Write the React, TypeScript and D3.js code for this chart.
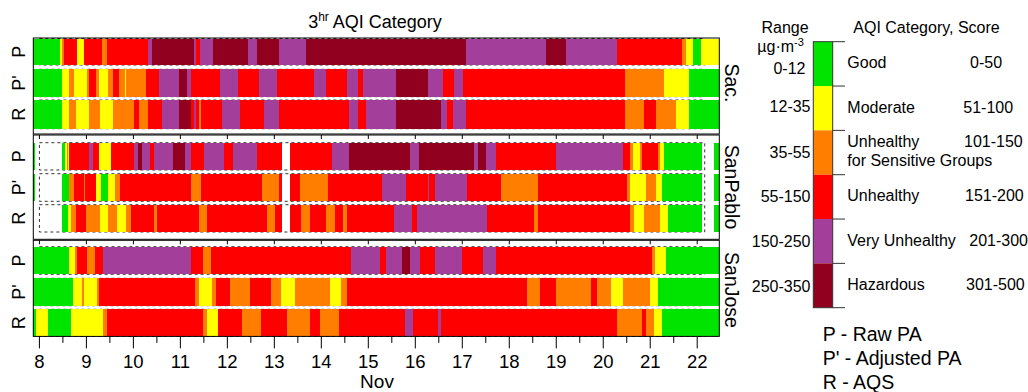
import React from "react";
import * as d3 from "d3";

// AQI categories: code, colour, label, score band and PM2.5 range
const CATEGORY_CODES = ["G", "Y", "O", "R", "V", "H"];
const CATEGORY_COLORS = ["#00e400", "#ffff00", "#ff7e00", "#ff0000", "#a33f9b", "#92001f"];
const CATEGORY_LABELS = [["Good"], ["Moderate"], ["Unhealthy", "for Sensitive Groups"], ["Unhealthy"], ["Very Unhealthy"], ["Hazardous"]];
const CATEGORY_SCORES = ["0-50", "51-100", "101-150", "151-200", "201-300", "301-500"];
const CATEGORY_RANGES = ["0-12", "12-35", "35-55", "55-150", "150-250", "250-350"];

const SITE_NAMES = ["Sac.", "SanPablo", "SanJose"];
const SERIES_NAMES = ["P", "P'", "R"];
const SERIES_KEY = ["P - Raw PA", "P' - Adjusted PA", "R - AQS"];
const DAY_TICKS = d3.range(8, 23);
const HALF_DAY_TICKS = d3.range(8.5, 22.5, 1);
const TIME_START = 7.87;
const TIME_END = 22.47;
const STUDY_START = 8.0;
const STUDY_END = 22.16;

// Category runs: "<day of Nov><category>" marks where each run begins ("-" = no data)
const SAC_P = "7.87G 8.43Y 8.49O 8.53R 8.80Y 8.94R 9.33O 9.43R 10.32V 10.39H 11.28V 11.33R 11.42V 11.69H 12.45V 12.64H 13.10V 13.67H 17.08V 18.78H 19.21V 20.30R 21.67O 21.77Y 21.90G 22.07Y";
const SAC_PADJ = "7.87G 8.48Y 8.62O 8.74Y 9.02O 9.06R 9.20O 9.27Y 9.47O 9.56R 9.70O 9.82Y 9.84O 10.26R 10.55V 10.97H 11.15V 11.23R 11.84V 12.22R 12.67V 13.06R 13.84V 14.10R 14.55V 14.77R 14.88V 15.58H 16.26V 16.60R 16.83V 17.01R 20.46O 21.29Y 21.83G";
const SAC_R = "7.87G 8.48Y 8.62O 8.78Y 9.06O 9.28Y 9.56O 10.01R 10.11O 10.32R 10.60V 10.97H 11.23R 11.28V 11.33R 11.40O 11.43R 11.88V 12.26R 12.77V 13.10R 14.59V 14.77R 14.95V 15.58H 16.55V 16.68R 16.80V 17.08R 20.46O 20.87R 21.12O 21.54Y 21.83G";

const SANPABLO_P = "7.87G 7.91- 8.48G 8.55Y 8.58O 8.60Y 8.64R 9.06V 9.15R 9.27Y 9.52R 10.01V 10.09H 10.19V 10.36R 10.44V 10.85H 11.10V 11.23R 11.50V 11.93R 12.11V 12.64R 13.17- 13.33R 14.22V 14.59H 15.89V 16.08H 17.25V 17.33H 17.50V 17.71R 18.99V 20.41R 20.57O 20.64Y 20.78O 20.82R 21.17O 21.21Y 21.29G 22.11- 22.36G";
const SANPABLO_PADJ = "7.87G 7.90- 8.48G 8.62O 8.74R 8.94O 8.97R 9.20Y 9.31G 9.47Y 9.60O 9.72R 11.23O 11.43R 12.73O 13.10R 13.17- 13.33R 13.55O 14.14R 15.30V 15.80R 16.26V 16.30R 16.42V 17.11R 17.82O 18.62R 20.50O 20.57Y 20.91O 21.12Y 21.24G 22.11- 22.36G";
const SANPABLO_R = "7.87- 8.48G 8.60Y 8.67O 8.78R 8.99O 9.28Y 9.47O 9.66Y 9.84O 9.94R 10.44O 10.51R 11.40O 11.56R 12.85O 13.01R 13.17- 13.33R 13.56O 13.76R 14.10O 14.29R 14.47O 14.54R 15.55V 15.92R 16.04V 17.53R 18.53O 18.62R 20.57O 20.66Y 20.87O 21.21Y 21.38G 22.11- 22.36G";

const SANJOSE_P = "7.87G 8.64Y 8.76O 8.81R 9.02O 9.19R 9.35V 11.23R 11.48O 11.65R 14.63V 15.25R 15.38V 15.71H 15.89V 16.09R 16.42V 16.99R 17.45V 17.72R 21.04O 21.11Y 21.33G";
const SANJOSE_PADJ = "7.87G 8.72Y 8.90O 8.94Y 9.23O 9.27R 11.31O 11.40Y 11.68O 11.76R 12.06O 12.48R 12.93O 13.14Y 13.43O 14.19Y 14.41O 14.55R 18.37O 18.65R 18.99O 19.74R 19.87O 20.16Y 20.41O 20.99Y 21.16G";
const SANJOSE_R = "7.87G 7.93Y 8.19G 8.67Y 9.35O 9.43R 11.48O 11.56Y 11.81R 12.31O 12.72R 13.26O 13.76R 13.97O 14.38R 15.78V 15.96R 16.49V 16.54R 20.29O 20.82R 20.91O 21.08Y 21.24G";

const SITE_SERIES = [
  [SAC_P, SAC_PADJ, SAC_R],
  [SANPABLO_P, SANPABLO_PADJ, SANPABLO_R],
  [SANJOSE_P, SANJOSE_PADJ, SANJOSE_R],
];

// ---- layout ----
const FONT = "'Liberation Sans', Arial, Helvetica, sans-serif";
const PLOT_LEFT = 33.3;
const PLOT_RIGHT = 719.3;
const PANELS = [
  { top: 38, bottom: 134, rows: [[38.5, 65], [69.3, 96.7], [100, 128.7]], ticks: false, labelY: 83 },
  { top: 135, bottom: 239.3, rows: [[142.7, 170], [173.7, 201.3], [204.7, 232]], ticks: true, labelY: 187 },
  { top: 240.3, bottom: 336.4, rows: [[246.7, 274.3], [278.3, 305.7], [309.3, 336.3]], ticks: true, labelY: 290 },
];
const LEGEND_X = 813.3;
const LEGEND_W = 19.4;
const LEGEND_TOP = 41.7;
const LEGEND_BOTTOM = 307.7;
const SCORE_X = [970, 963.3, 964, 965, 969.3, 966];
const RANGE_BASELINE = [74, 112, 158.3, 201.7, 246.7, 291.7];

function parseRuns(s: string) {
  const tokens = s.trim().split(/\s+/).map((t) => ({ day: +t.slice(0, -1), cat: t.slice(-1) }));
  return tokens.map((t, i) => ({
    start: t.day,
    end: i < tokens.length - 1 ? tokens[i + 1].day : TIME_END,
    cat: t.cat,
  }));
}

export default function App() {
  const x = d3.scaleLinear().domain([TIME_START, TIME_END]).range([PLOT_LEFT, PLOT_RIGHT]);
  const color = d3.scaleOrdinal<string, string>().domain(CATEGORY_CODES).range(CATEGORY_COLORS);
  const band = d3.scaleLinear().domain([0, CATEGORY_CODES.length]).range([LEGEND_TOP, LEGEND_BOTTOM]);
  const axisY = PANELS[2].bottom;

  return (
    <svg
      width={1028}
      height={392}
      style={{ position: "absolute", left: 0, top: 0, background: "#fff" }}
      fontFamily={FONT}
    >
      {/* title */}
      <text x={375} y={28.3} textAnchor="middle" fontSize={18} fill="#000">
        <tspan>3</tspan>
        <tspan fontSize={12} dy={-7}>hr</tspan>
        <tspan dy={7}> AQI Category</tspan>
      </text>

      {PANELS.map((panel, pi) => (
        <g key={pi}>
          {panel.ticks &&
            DAY_TICKS.map((d) => (
              <line key={d} x1={x(d)} x2={x(d)} y1={panel.top} y2={panel.top + 4} stroke="#000" strokeWidth={1} />
            ))}
          {panel.rows.map(([y0, y1], ri) => {
            const runs = parseRuns(SITE_SERIES[pi][ri]);
            return (
              <g key={ri}>
                <rect
                  x={x(STUDY_START)}
                  y={y0}
                  width={x(STUDY_END) - x(STUDY_START)}
                  height={y1 - y0}
                  fill="none"
                  stroke="#333"
                  strokeWidth={1}
                  strokeDasharray="3 3"
                />
                {runs
                  .filter((r) => r.cat !== "-")
                  .map((r, k) => (
                    <rect
                      key={k}
                      x={x(r.start)}
                      y={y0}
                      width={x(r.end) - x(r.start)}
                      height={y1 - y0}
                      fill={color(r.cat)}
                      shapeRendering="crispEdges"
                    />
                  ))}
                <text
                  transform={`translate(25.3,${(y0 + y1) / 2}) rotate(-90)`}
                  textAnchor="middle"
                  fontSize={18}
                  fill="#000"
                >
                  {SERIES_NAMES[ri]}
                </text>
              </g>
            );
          })}
          <rect
            x={PLOT_LEFT}
            y={panel.top}
            width={PLOT_RIGHT - PLOT_LEFT}
            height={panel.bottom - panel.top}
            fill="none"
            stroke="#000"
            strokeWidth={1}
          />
          <text
            transform={`translate(725,${panel.labelY}) rotate(90)`}
            textAnchor="middle"
            fontSize={19.5}
            fill="#000"
          >
            {SITE_NAMES[pi]}
          </text>
        </g>
      ))}

      {/* time axis */}
      {DAY_TICKS.map((d) => (
        <g key={d}>
          <line x1={x(d)} x2={x(d)} y1={axisY} y2={axisY + 12} stroke="#000" strokeWidth={1} />
          <text x={x(d)} y={368.3} textAnchor="middle" fontSize={18.5} fill="#000">
            {d}
          </text>
        </g>
      ))}
      {HALF_DAY_TICKS.map((d) => (
        <line key={d} x1={x(d)} x2={x(d)} y1={axisY} y2={axisY + 6.5} stroke="#000" strokeWidth={1} />
      ))}
      <text x={377} y={388} textAnchor="middle" fontSize={19} fill="#000">
        Nov
      </text>

      {/* category key */}
      <text x={785} y={33.3} textAnchor="middle" fontSize={16} fill="#000">
        Range
      </text>
      <text x={757.3} y={51.7} fontSize={16} fill="#000">
        <tspan>µg·m</tspan>
        <tspan fontSize={11} dy={-6}>-3</tspan>
      </text>
      <text x={853.3} y={33.3} fontSize={16} fill="#000">
        AQI Category, Score
      </text>
      {CATEGORY_CODES.map((c, i) => {
        const cy = (band(i) + band(i + 1)) / 2;
        const lines = CATEGORY_LABELS[i];
        const base = lines.length > 1 ? cy - 5.2 : cy + 4.5;
        return (
          <g key={c}>
            <rect x={LEGEND_X} y={band(i)} width={LEGEND_W} height={band(i + 1) - band(i)} fill={color(c)} />
            <text x={847.3} y={base} fontSize={16} fill="#000">
              {lines.map((t, li) => (
                <tspan key={li} x={847.3} dy={li === 0 ? 0 : 18.7}>
                  {t}
                </tspan>
              ))}
            </text>
            <text x={SCORE_X[i]} y={base} fontSize={16} fill="#000">
              {CATEGORY_SCORES[i]}
            </text>
            <text x={i === 0 ? 805.5 : 810.5} y={RANGE_BASELINE[i]} textAnchor="end" fontSize={16} fill="#000">
              {CATEGORY_RANGES[i]}
            </text>
          </g>
        );
      })}
      <rect x={LEGEND_X} y={LEGEND_TOP} width={LEGEND_W} height={LEGEND_BOTTOM - LEGEND_TOP} fill="none" stroke="#333" strokeWidth={1} />
      {d3.range(CATEGORY_CODES.length + 1).map((i) => (
        <line key={i} x1={LEGEND_X + LEGEND_W} x2={845} y1={band(i)} y2={band(i)} stroke="#333" strokeWidth={1} />
      ))}

      {SERIES_KEY.map((t, i) => (
        <text key={t} x={822.7} y={340.7 + i * 24} fontSize={19.5} fill="#000">
          {t}
        </text>
      ))}
    </svg>
  );
}
